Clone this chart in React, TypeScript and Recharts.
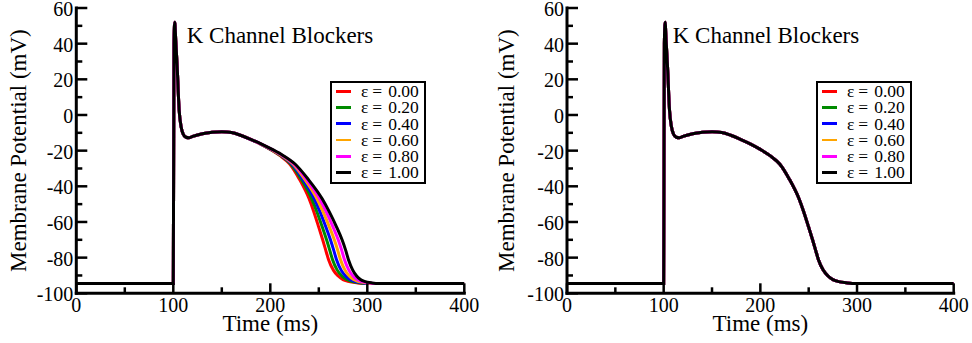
import { LineChart, Line, XAxis, YAxis, Legend, Label } from 'recharts';

const FONT = '"Liberation Serif", "Times New Roman", serif';

const EPSILONS = ['0.00', '0.20', '0.40', '0.60', '0.80', '1.00'];
const COLORS = ['#ff0000', '#008b00', '#0000ff', '#ffa500', '#ff00ff', '#000000'];

const X_TICKS = [0, 50, 100, 150, 200, 250, 300, 350, 400];
const Y_TICKS = [-100, -90, -80, -70, -60, -50, -40, -30, -20, -10, 0, 10, 20, 30, 40, 50, 60];

// time points shared by every trace up to the plateau (ms)
const T_EARLY = [0, 100, 100.7, 101.5, 102.5, 104, 106, 108, 110, 113, 116, 120, 130, 140, 150, 160];

// membrane potential at each knot (mV), same for all traces
const V_MEMBRANE = [
  -94.5, -94.5, 40, 52, 42, 27, 3, -6.5, -10.5, -12.5, -12.8, -12, -10.5, -9.7, -9.4, -9.8,
  -11.5, -13.8, -16.3, -19.3, -22.8, -27.5, -36, -47, -54.5, -63, -70, -75.5, -81, -87, -90.3,
  -92.3, -93.3, -94.2, -94.5, -94.5,
];

// repolarisation times per epsilon, left panel (K channel blockers prolong phase 3)
const T_LATE_000 = [170, 180, 190, 200, 210, 220, 230, 240, 245, 250, 254, 257, 260, 265, 270, 275, 280, 290, 300, 400];
const T_LATE_020 = [170, 180.1, 190.2, 200.4, 210.7, 221.1, 231.8, 242.7, 248.2, 253.7, 258, 261.1, 264.1, 269, 273.8, 278.6, 283.4, 293, 302.5, 400];
const T_LATE_040 = [170, 180.2, 190.4, 200.8, 211.4, 222.2, 233.6, 245.4, 251.4, 257.4, 262, 265.2, 268.2, 273, 277.6, 282.2, 286.8, 296, 305, 400];
const T_LATE_060 = [170, 180.3, 190.6, 201.2, 212.1, 223.3, 235.4, 248.1, 254.6, 261.1, 266, 269.3, 272.3, 277, 281.4, 285.8, 290.2, 299, 307.5, 400];
const T_LATE_080 = [170, 180.4, 190.8, 201.6, 212.8, 224.4, 237.2, 250.8, 257.8, 264.8, 270, 273.4, 276.4, 281, 285.2, 289.4, 293.6, 302, 310, 400];
const T_LATE_100 = [170, 180.5, 191, 202, 213.5, 225.5, 239, 253.5, 261, 268.5, 274, 277.5, 280.5, 285, 289, 293, 297, 305, 312.5, 400];

const LEFT_LATE = [T_LATE_000, T_LATE_020, T_LATE_040, T_LATE_060, T_LATE_080, T_LATE_100];
// right panel: all traces fall on top of each other
const RIGHT_LATE = [T_LATE_000, T_LATE_000, T_LATE_000, T_LATE_000, T_LATE_000, T_LATE_000];

const AXIS_LINE = { stroke: '#000', strokeWidth: 3, strokeLinecap: 'square' as const };

const BottomTick = ({ x, y, payload }: any) => {
  const major = payload.value % 100 === 0;
  return (
    <g>
      <line x1={x} x2={x} y1={y} y2={y - (major ? 10 : 6)} stroke="#000" strokeWidth={2.5} />
      {major && (
        <text x={x} y={y + 19} textAnchor="middle" fontSize={20} fontFamily={FONT} fill="#000">
          {payload.value}
        </text>
      )}
    </g>
  );
};

const TopTick = ({ x, y, payload }: any) => {
  const major = payload.value % 100 === 0;
  return <line x1={x} x2={x} y1={y} y2={y + (major ? 10 : 6)} stroke="#000" strokeWidth={2.5} />;
};

const LeftTick = ({ x, y, payload }: any) => {
  const major = payload.value % 20 === 0;
  return (
    <g>
      <line x1={x} x2={x + (major ? 11 : 6)} y1={y} y2={y} stroke="#000" strokeWidth={2.5} />
      {major && (
        <text x={x - 3} y={y + 8} textAnchor="end" fontSize={20} fontFamily={FONT} fill="#000">
          {payload.value}
        </text>
      )}
    </g>
  );
};

const RightTick = ({ x, y, payload }: any) => {
  const major = payload.value % 20 === 0;
  return <line x1={x} x2={x - (major ? 11 : 6)} y1={y} y2={y} stroke="#000" strokeWidth={2.5} />;
};

const EpsLegend = () => (
  <div
    style={{
      boxSizing: 'border-box',
      width: 96,
      height: 103,
      border: '2.5px solid #000',
      background: '#fff',
      fontFamily: FONT,
      fontSize: 17.5,
      color: '#000',
    }}
  >
    {EPSILONS.map((eps, k) => (
      <div key={eps} style={{ display: 'flex', alignItems: 'center', height: 16.3 }}>
        <div style={{ width: 15, height: 2.8, marginLeft: 3.5, marginRight: 10.5, background: COLORS[k] }} />
        <span style={{ lineHeight: '16.3px', whiteSpace: 'nowrap' }}>
          ε<span style={{ marginLeft: 4 }}>=</span>
          <span style={{ marginLeft: 6 }}>{eps}</span>
        </span>
      </div>
    ))}
  </div>
);

interface PanelProps {
  late: number[][];
  axisWidth: number;
  rightGap: number;
  yLabelX: number;
}

function Panel({ late, axisWidth, rightGap, yLabelX }: PanelProps) {
  const series = late.map((tail) => T_EARLY.concat(tail).map((t, i) => ({ t, v: V_MEMBRANE[i] })));

  return (
    <LineChart width={486} height={343} margin={{ top: 8, right: rightGap, bottom: 0, left: 0 }}>
      <XAxis
        dataKey="t"
        type="number"
        domain={[0, 400]}
        ticks={X_TICKS}
        interval={0}
        tickSize={0}
        tickMargin={0}
        tick={<BottomTick />}
        axisLine={AXIS_LINE}
        height={49.7}
        allowDataOverflow
      >
        <Label
          content={(p: any) => (
            <g>
              <text
                x={p.viewBox.x + p.viewBox.width / 2}
                y={p.viewBox.y + 37.4}
                textAnchor="middle"
                fontSize={23}
                fontFamily={FONT}
                fill="#000"
              >
                Time (ms)
              </text>
              <text x={186.7} y={43} fontSize={23} fontFamily={FONT} fill="#000">
                K Channel Blockers
              </text>
            </g>
          )}
        />
      </XAxis>
      <XAxis
        xAxisId="top"
        orientation="top"
        type="number"
        domain={[0, 400]}
        ticks={X_TICKS}
        interval={0}
        tickSize={0}
        tickMargin={0}
        tick={<TopTick />}
        axisLine={AXIS_LINE}
        height={0}
      />
      <YAxis
        type="number"
        domain={[-100, 60]}
        ticks={Y_TICKS}
        interval={0}
        tickSize={0}
        tickMargin={0}
        tick={<LeftTick />}
        axisLine={AXIS_LINE}
        width={axisWidth}
        allowDataOverflow
      >
        <Label
          content={(p: any) => {
            const cy = p.viewBox.y + p.viewBox.height / 2;
            return (
              <text
                x={yLabelX}
                y={cy}
                transform={`rotate(-90 ${yLabelX} ${cy})`}
                textAnchor="middle"
                fontSize={23}
                fontFamily={FONT}
                fill="#000"
              >
                Membrane Potential (mV)
              </text>
            );
          }}
        />
      </YAxis>
      <YAxis
        yAxisId="right"
        orientation="right"
        type="number"
        domain={[-100, 60]}
        ticks={Y_TICKS}
        interval={0}
        tickSize={0}
        tickMargin={0}
        tick={<RightTick />}
        axisLine={AXIS_LINE}
        width={0}
      />
      {series.map((pts, k) => (
        <Line
          key={EPSILONS[k]}
          data={pts}
          dataKey="v"
          type="monotone"
          stroke={COLORS[k]}
          strokeWidth={3}
          dot={false}
          activeDot={false}
          isAnimationActive={false}
        />
      ))}
      <Legend
        layout="vertical"
        align="center"
        verticalAlign="middle"
        content={() => <EpsLegend />}
        wrapperStyle={{ left: 330, top: 81, width: 96, height: 103 }}
      />
    </LineChart>
  );
}

export default function App() {
  return (
    <div
      style={{
        position: 'absolute',
        left: 0,
        top: 0,
        width: 972,
        height: 343,
        display: 'flex',
        background: '#fff',
      }}
    >
      <Panel late={LEFT_LATE} axisWidth={76.3} rightGap={21.7} yLabelX={26} />
      <Panel late={RIGHT_LATE} axisWidth={81} rightGap={18.3} yLabelX={28} />
    </div>
  );
}
